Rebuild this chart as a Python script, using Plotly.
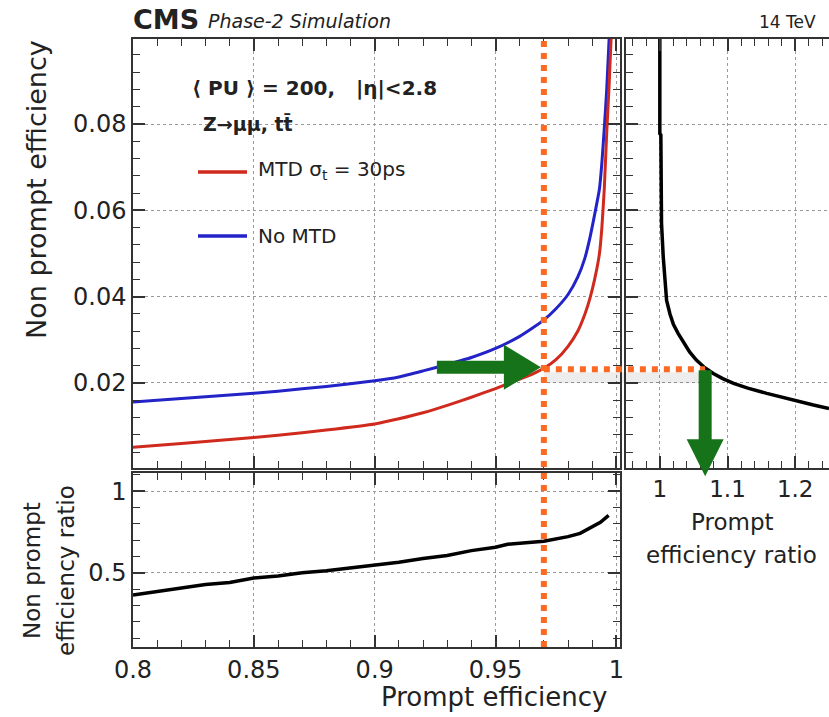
import plotly.graph_objects as go

# ---------------- data ----------------
# Non prompt efficiency vs prompt efficiency
prompt_eff_no_mtd = [0.80, 0.82, 0.84, 0.86, 0.88, 0.90, 0.91, 0.92, 0.93, 0.94,
                     0.95, 0.96, 0.965, 0.97, 0.975, 0.98, 0.984, 0.987, 0.989,
                     0.991, 0.993, 0.994, 0.995, 0.996, 0.997]
nonprompt_no_mtd = [0.0156, 0.0164, 0.0172, 0.0181, 0.0192, 0.0205, 0.0214, 0.0228,
                    0.0243, 0.0259, 0.0280, 0.0308, 0.0326, 0.0346, 0.0372, 0.0405,
                    0.0445, 0.0490, 0.0535, 0.0590, 0.0650, 0.0710, 0.0790, 0.0880,
                    0.0997]
prompt_eff_mtd = [0.80, 0.82, 0.84, 0.86, 0.88, 0.90, 0.91, 0.92, 0.93, 0.94, 0.95,
                  0.96, 0.965, 0.97, 0.975, 0.98, 0.984, 0.987, 0.989, 0.991, 0.993,
                  0.994, 0.995, 0.996, 0.997, 0.9978]
nonprompt_mtd = [0.0051, 0.0060, 0.0069, 0.0079, 0.0091, 0.0105, 0.0117, 0.0131,
                 0.0148, 0.0167, 0.0187, 0.0209, 0.0220, 0.0234, 0.0254, 0.0285,
                 0.0320, 0.0360, 0.0395, 0.0440, 0.0500, 0.0560, 0.0650, 0.0780,
                 0.0890, 0.0997]

# Prompt efficiency ratio vs non prompt efficiency
prompt_ratio = [1.000, 1.000, 1.0015, 1.0025, 1.005, 1.0075, 1.010, 1.015, 1.020,
                1.027, 1.035, 1.044, 1.054, 1.066, 1.079, 1.093, 1.109, 1.130,
                1.158, 1.190, 1.227, 1.250]
prompt_ratio_nonprompt = [0.0997, 0.0778, 0.0775, 0.0570, 0.0493, 0.0432, 0.0391,
                          0.0360, 0.0336, 0.0315, 0.0293, 0.0272, 0.0253, 0.0236,
                          0.0222, 0.0210, 0.0199, 0.0188, 0.0176, 0.0163, 0.0149,
                          0.0141]

# Non prompt efficiency ratio vs prompt efficiency
ratio_prompt_eff = [0.80, 0.81, 0.82, 0.83, 0.84, 0.85, 0.86, 0.87, 0.88, 0.89, 0.90,
                    0.91, 0.92, 0.93, 0.94, 0.95, 0.955, 0.96, 0.965, 0.97, 0.975,
                    0.98, 0.985, 0.99, 0.9934, 0.9968]
nonprompt_ratio = [0.364, 0.385, 0.408, 0.428, 0.440, 0.468, 0.480, 0.500, 0.513,
                   0.530, 0.546, 0.565, 0.588, 0.606, 0.636, 0.657, 0.675, 0.683,
                   0.688, 0.693, 0.705, 0.722, 0.742, 0.785, 0.810, 0.852]

# working point
wp_prompt = 0.97
wp_nonprompt = 0.0232
wp_prompt_ratio = 1.067

# ---------------- layout geometry ----------------
W, H = 829, 717
FONT = "DejaVu Sans"
TXT = "#222222"
AX = "#333333"


def px_x(p):
    return p / W


def px_y(p):
    return 1 - p / H


MAIN_X_DOM = [px_x(133), px_x(620)]
MAIN_Y_DOM = [px_y(468), px_y(39)]
RIGHT_X_DOM = [px_x(626), 1.0]
RATIO_Y_DOM = [px_y(647), px_y(473)]

X_RANGE = [0.8, 1.0015]
Y_RANGE = [0.0003, 0.0997]
X2_RANGE = [0.95, 1.25]
Y3_RANGE = [0.045, 1.112]


def to_paper(v, rng, dom):
    return dom[0] + (v - rng[0]) / (rng[1] - rng[0]) * (dom[1] - dom[0])


fig = go.Figure()

fig.add_trace(go.Scatter(x=prompt_eff_no_mtd, y=nonprompt_no_mtd, mode="lines",
                         line=dict(color="#2323c8", width=3, shape="spline", smoothing=0.5),
                         xaxis="x", yaxis="y", showlegend=False))
fig.add_trace(go.Scatter(x=prompt_eff_mtd, y=nonprompt_mtd, mode="lines",
                         line=dict(color="#d02a1e", width=3, shape="spline", smoothing=0.5),
                         xaxis="x", yaxis="y", showlegend=False))
fig.add_trace(go.Scatter(x=prompt_ratio, y=prompt_ratio_nonprompt, mode="lines",
                         line=dict(color="black", width=3.5), xaxis="x2", yaxis="y2",
                         showlegend=False))
fig.add_trace(go.Scatter(x=ratio_prompt_eff, y=nonprompt_ratio, mode="lines",
                         line=dict(color="black", width=3.5), xaxis="x3", yaxis="y3",
                         showlegend=False))


def axis(**kw):
    minor_dtick = kw.pop("minor_dtick")
    base = dict(showline=True, linecolor=AX, linewidth=1.5, mirror="ticks",
                ticks="inside", ticklen=12, tickwidth=1.6, tickcolor=AX,
                showgrid=True, gridcolor="#9a9a9a", griddash="dot", gridwidth=1,
                zeroline=False, tickfont=dict(family=FONT, size=24, color=TXT),
                minor=dict(ticks="inside", ticklen=7, tickwidth=1.4, tickcolor=AX,
                           showgrid=False, dtick=minor_dtick))
    base.update(kw)
    return base


fig.update_layout(
    width=W, height=H, margin=dict(l=0, r=0, t=0, b=0, autoexpand=False),
    paper_bgcolor="white", plot_bgcolor="white",
    xaxis=axis(domain=MAIN_X_DOM, range=X_RANGE, tick0=0.8, dtick=0.05,
               minor_dtick=0.01, showticklabels=False, anchor="y"),
    yaxis=axis(domain=MAIN_Y_DOM, range=Y_RANGE, tick0=0, dtick=0.02,
               minor_dtick=0.004, anchor="x"),
    xaxis2=axis(domain=RIGHT_X_DOM, range=X2_RANGE, tick0=1, dtick=0.1,
                minor_dtick=0.02, anchor="y2",
                tickfont=dict(family=FONT, size=23, color=TXT)),
    yaxis2=axis(domain=MAIN_Y_DOM, range=Y_RANGE, tick0=0, dtick=0.02,
                minor_dtick=0.004, showticklabels=False, anchor="x2", mirror=False),
    xaxis3=axis(domain=MAIN_X_DOM, range=X_RANGE, tick0=0.8, dtick=0.05,
                minor_dtick=0.01, anchor="y3"),
    yaxis3=axis(domain=RATIO_Y_DOM, range=Y3_RANGE, tick0=0, dtick=0.5,
                minor_dtick=0.1, anchor="x3"),
)

# ---------------- working-point guides ----------------
wp_x = to_paper(wp_prompt, X_RANGE, MAIN_X_DOM)
wp_y = to_paper(wp_nonprompt, Y_RANGE, MAIN_Y_DOM)
wp_x2 = to_paper(wp_prompt_ratio, X2_RANGE, RIGHT_X_DOM)

shapes = []
# soft shadow under the horizontal guide
shapes.append(dict(type="rect", xref="paper", yref="paper",
                   x0=wp_x, x1=wp_x2, y0=wp_y - 14 / H, y1=wp_y - 3 / H,
                   fillcolor="rgba(0,0,0,0.07)", line=dict(width=0), layer="above"))
ORANGE = "#fb6a22"
shapes.append(dict(type="line", xref="paper", yref="paper",
                   x0=wp_x, x1=wp_x, y0=RATIO_Y_DOM[0], y1=MAIN_Y_DOM[1],
                   line=dict(color=ORANGE, width=6, dash="6px,6px")))
shapes.append(dict(type="line", xref="paper", yref="paper",
                   x0=wp_x, x1=wp_x2, y0=wp_y, y1=wp_y,
                   line=dict(color=ORANGE, width=6, dash="6px,6px")))

GREEN = "#17731a"
# horizontal arrow pointing at the working point on the MTD curve
tip_x, tip_y = wp_x - 3 / W, wp_y + 2 / H
tail_x = tip_x - 104 / W
head_x = tip_x - 37 / W
sh, hh = 6.5 / H, 22.5 / H
shapes.append(dict(type="path", xref="paper", yref="paper", fillcolor=GREEN,
                   line=dict(width=0),
                   path=(f"M{tail_x},{tip_y + sh} L{head_x},{tip_y + sh} L{head_x},{tip_y + hh} "
                         f"L{tip_x},{tip_y} L{head_x},{tip_y - hh} L{head_x},{tip_y - sh} "
                         f"L{tail_x},{tip_y - sh} Z")))
# vertical arrow pointing down to the prompt efficiency ratio
top_y = wp_y - 1 / H
vtip_y = top_y - 106 / H
vhead_y = vtip_y + 37 / H
sw, hw = 6.5 / W, 18.5 / W
cx = wp_x2
shapes.append(dict(type="path", xref="paper", yref="paper", fillcolor=GREEN,
                   line=dict(width=0),
                   path=(f"M{cx - sw},{top_y} L{cx + sw},{top_y} L{cx + sw},{vhead_y} "
                         f"L{cx + hw},{vhead_y} L{cx},{vtip_y} L{cx - hw},{vhead_y} "
                         f"L{cx - sw},{vhead_y} Z")))

# legend lines
shapes.append(dict(type="line", xref="paper", yref="paper", x0=px_x(198), x1=px_x(247),
                   y0=px_y(172), y1=px_y(172), line=dict(color="#d02a1e", width=3.5)))
shapes.append(dict(type="line", xref="paper", yref="paper", x0=px_x(198), x1=px_x(247),
                   y0=px_y(236), y1=px_y(236), line=dict(color="#2323c8", width=3.5)))
fig.update_layout(shapes=shapes)


# ---------------- text ----------------
def label(text, x, y, size, xanchor="left", yanchor="middle", bold=False,
          italic=False, angle=0):
    style = "italic" if italic else "normal"
    weight = "bold" if bold else "normal"
    fig.add_annotation(text=text, x=px_x(x), y=px_y(y), xref="paper", yref="paper",
                       xanchor=xanchor, yanchor=yanchor, showarrow=False, textangle=angle,
                       font=dict(family=FONT, size=size, color=TXT, style=style,
                                 weight=weight))


label("CMS", 131, 20, 27, bold=True)
label("Phase-2 Simulation", 206, 21, 19, italic=True)
label("14 TeV", 818, 22, 17, xanchor="right")
label("\u27e8 PU \u27e9 = 200,   |\u03b7|<2.8", 190, 88, 20, bold=True)
label("Z\u2192\u03bc\u03bc, tt\u0304", 201, 124, 19, bold=True)
label("MTD \u03c3<sub>t</sub> = 30ps", 256, 170, 20)
label("No MTD", 256, 236, 20)
label("Non prompt efficiency", 36, 190, 27, xanchor="center", angle=-90)
label("Non prompt", 32, 571, 23, xanchor="center", angle=-90)
label("efficiency ratio", 66, 571, 23, xanchor="center", angle=-90)
label("Prompt efficiency", 609, 697, 26, xanchor="right")
label("Prompt", 732, 522, 23, xanchor="center")
label("efficiency ratio", 731, 555, 23, xanchor="center")

fig.write_html("out.html")
